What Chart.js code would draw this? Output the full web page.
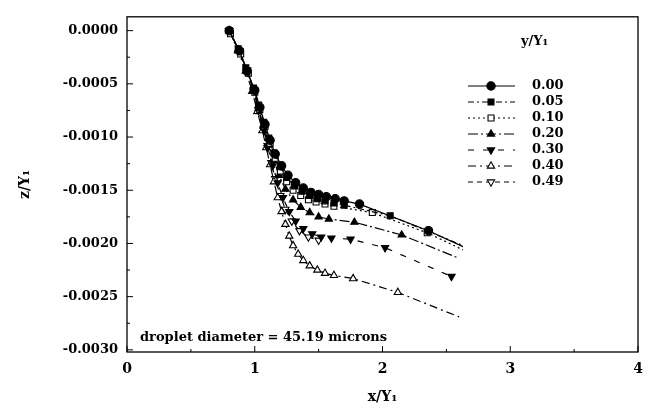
<!DOCTYPE html>
<html>
<head>
<meta charset="utf-8">
<script src="https://cdn.jsdelivr.net/npm/chart.js@4.4.0/dist/chart.umd.min.js"></script>
<style>
html, body { margin: 0; padding: 0; background: #fff; }
</style>
</head>
<body>
<canvas id="chart-droplet" width="659" height="412"></canvas>
<script>
// y/Y1 stations shown in the legend
var ratios = ['0.00', '0.05', '0.10', '0.20', '0.30', '0.40', '0.49'];

// axis ticks
var xTicks = [0, 1, 2, 3, 4];
var yTicks = [0, -0.0005, -0.0010, -0.0015, -0.0020, -0.0025, -0.0030];

// trajectories, x/Y1 and z/Y1
var x000 = [0.80, 0.88, 0.94, 1.00, 1.04, 1.08, 1.12, 1.16, 1.21, 1.26, 1.32, 1.38, 1.44, 1.50, 1.56, 1.63, 1.70, 1.82, 2.36, 2.63];
var z000 = [0, -0.00019, -0.00038, -0.00056, -0.00072, -0.00088, -0.00103, -0.00116, -0.00127, -0.00136, -0.00143, -0.00148, -0.00152, -0.00154, -0.00156, -0.00158, -0.00160, -0.00163, -0.00188, -0.00203];

var x005 = [0.80, 0.87, 0.93, 0.99, 1.03, 1.07, 1.11, 1.15, 1.20, 1.25, 1.31, 1.37, 1.43, 1.49, 1.55, 1.62, 1.70, 2.06, 2.63];
var z005 = [0, -0.00017, -0.00035, -0.00054, -0.00070, -0.00086, -0.00101, -0.00115, -0.00128, -0.00138, -0.00146, -0.00151, -0.00155, -0.00158, -0.00160, -0.00162, -0.00164, -0.00174, -0.00202];

var x010 = [0.81, 0.89, 0.95, 1.00, 1.04, 1.08, 1.12, 1.16, 1.20, 1.25, 1.30, 1.36, 1.42, 1.48, 1.55, 1.62, 1.92, 2.35, 2.63];
var z010 = [-0.00003, -0.00022, -0.00040, -0.00058, -0.00074, -0.00090, -0.00106, -0.00120, -0.00132, -0.00142, -0.00150, -0.00155, -0.00159, -0.00161, -0.00163, -0.00165, -0.00171, -0.00190, -0.00206];

var x020 = [0.80, 0.87, 0.94, 0.99, 1.03, 1.07, 1.11, 1.15, 1.19, 1.24, 1.30, 1.36, 1.43, 1.50, 1.58, 1.78, 2.15, 2.60];
var z020 = [0, -0.00018, -0.00037, -0.00056, -0.00073, -0.00090, -0.00107, -0.00122, -0.00136, -0.00149, -0.00159, -0.00166, -0.00171, -0.00175, -0.00177, -0.00180, -0.00192, -0.00214];

var x030 = [0.80, 0.88, 0.94, 0.99, 1.03, 1.07, 1.10, 1.14, 1.18, 1.22, 1.27, 1.32, 1.38, 1.45, 1.52, 1.60, 1.75, 2.02, 2.54];
var z030 = [0, -0.00019, -0.00038, -0.00057, -0.00075, -0.00093, -0.00110, -0.00127, -0.00143, -0.00157, -0.00170, -0.00179, -0.00186, -0.00191, -0.00194, -0.00195, -0.00196, -0.00204, -0.00231];

var x040 = [0.80, 0.87, 0.93, 0.98, 1.02, 1.06, 1.09, 1.12, 1.15, 1.18, 1.21, 1.24, 1.27, 1.30, 1.34, 1.38, 1.43, 1.49, 1.55, 1.62, 1.77, 2.12, 2.60];
var z040 = [0, -0.00019, -0.00038, -0.00057, -0.00076, -0.00094, -0.00110, -0.00126, -0.00142, -0.00157, -0.00170, -0.00182, -0.00193, -0.00202, -0.00210, -0.00216, -0.00221, -0.00225, -0.00228, -0.00230, -0.00233, -0.00246, -0.00269];

var x049 = [0.80, 0.88, 0.94, 0.99, 1.03, 1.07, 1.10, 1.13, 1.16, 1.20, 1.24, 1.29, 1.35, 1.42, 1.50];
var z049 = [0, -0.00019, -0.00037, -0.00056, -0.00074, -0.00092, -0.00108, -0.00124, -0.00139, -0.00155, -0.00168, -0.00179, -0.00188, -0.00194, -0.00197];

var serif = '"DejaVu Serif", "Liberation Serif", serif';

function toPoints(xs, zs) {
    return xs.map(function (x, i) { return { x: x, y: zs[i] }; });
}

// last point of some curves is only the end of the fitted line, no symbol
function radii(xs, lineOnlyEnd) {
    return xs.map(function (x, i) { return (lineOnlyEnd && i === xs.length - 1) ? 0 : 4.2; });
}

function series(label, xs, zs, style, open, rotation, dash, lineOnlyEnd) {
    return {
        label: label,
        data: toPoints(xs, zs),
        showLine: true,
        borderColor: '#000',
        borderWidth: 1.2,
        borderDash: dash,
        pointStyle: style,
        pointRotation: rotation,
        pointRadius: radii(xs, lineOnlyEnd),
        pointBackgroundColor: open ? '#fff' : '#000',
        pointBorderColor: '#000',
        pointBorderWidth: 1.1,
        tension: 0
    };
}

var framePlugin = {
    id: 'frame',
    afterDraw: function (chart) {
        var ctx = chart.ctx;
        var a = chart.chartArea;
        var xs = chart.scales.x, ys = chart.scales.y;
        ctx.save();
        ctx.strokeStyle = '#000';
        ctx.lineWidth = 1.3;
        ctx.strokeRect(a.left, a.top, a.right - a.left, a.bottom - a.top);

        // inward ticks
        ctx.lineWidth = 1;
        ctx.beginPath();
        xTicks.forEach(function (v, i) {
            var px = xs.getPixelForValue(v);
            ctx.moveTo(px, a.bottom); ctx.lineTo(px, a.bottom - 6);
            if (i < xTicks.length - 1) {
                var mx = xs.getPixelForValue((v + xTicks[i + 1]) / 2);
                ctx.moveTo(mx, a.bottom); ctx.lineTo(mx, a.bottom - 3);
            }
        });
        yTicks.forEach(function (v, i) {
            var py = ys.getPixelForValue(v);
            ctx.moveTo(a.left, py); ctx.lineTo(a.left + 6, py);
            if (i < yTicks.length - 1) {
                var my = ys.getPixelForValue((v + yTicks[i + 1]) / 2);
                ctx.moveTo(a.left, my); ctx.lineTo(a.left + 3, my);
            }
        });
        ctx.stroke();

        // note inside the plot
        ctx.fillStyle = '#000';
        ctx.font = 'bold 13px ' + serif;
        ctx.textBaseline = 'middle';
        ctx.textAlign = 'left';
        ctx.fillText('droplet diameter = 45.19 microns', 140, 338);

        // legend
        ctx.fillText('y/Y\u2081', 521, 42);
        chart.data.datasets.forEach(function (ds, i) {
            var y = 86 + i * 16;
            ctx.strokeStyle = '#000';
            ctx.lineWidth = ds.borderWidth;
            ctx.setLineDash(ds.borderDash);
            ctx.beginPath();
            ctx.moveTo(468, y); ctx.lineTo(515, y);
            ctx.stroke();
            ctx.setLineDash([]);
            ctx.fillStyle = ds.pointBackgroundColor;
            ctx.lineWidth = ds.pointBorderWidth;
            Chart.helpers.drawPoint(ctx, {
                pointStyle: ds.pointStyle,
                rotation: ds.pointRotation,
                radius: 4.2,
                borderWidth: ds.pointBorderWidth
            }, 491, y);
            ctx.fillStyle = '#000';
            ctx.fillText(ds.label, 532, y);
        });
        ctx.restore();
    }
};

function chart() {
    var ctx = document.getElementById('chart-droplet');
    if (ctx) {
        new Chart(ctx, {
            type: 'scatter',
            data: {
                datasets: [
                    series(ratios[0], x000, z000, 'circle', false, 0, [], true),
                    series(ratios[1], x005, z005, 'rect', false, 0, [6, 3, 2, 3], true),
                    series(ratios[2], x010, z010, 'rect', true, 0, [2, 3], true),
                    series(ratios[3], x020, z020, 'triangle', false, 0, [10, 3, 2, 3], true),
                    series(ratios[4], x030, z030, 'triangle', false, 180, [6, 9], false),
                    series(ratios[5], x040, z040, 'triangle', true, 0, [8, 4, 2, 4], true),
                    series(ratios[6], x049, z049, 'triangle', true, 180, [5, 4], false)
                ]
            },
            options: {
                responsive: false,
                animation: false,
                devicePixelRatio: 1,
                events: [],
                layout: { padding: { top: 7, right: 21, left: 0, bottom: 0 } },
                plugins: { legend: { display: false }, tooltip: { enabled: false } },
                scales: {
                    x: {
                        type: 'linear',
                        min: 0,
                        max: 4,
                        afterBuildTicks: function (scale) {
                            scale.ticks = xTicks.map(function (v) { return { value: v }; });
                        },
                        afterFit: function (scale) { scale.height = 60; },
                        grid: { display: false, drawTicks: false },
                        border: { display: false },
                        ticks: {
                            color: '#000',
                            padding: 9,
                            maxRotation: 0,
                            font: { family: serif, size: 14, weight: 'bold' },
                            callback: function (v) { return String(v); }
                        },
                        title: {
                            display: true,
                            text: 'x/Y\u2081',
                            color: '#000',
                            padding: { top: 0, bottom: 6 },
                            font: { family: serif, size: 14, weight: 'bold' }
                        }
                    },
                    y: {
                        type: 'linear',
                        min: -0.00302,
                        max: 0.00013,
                        afterBuildTicks: function (scale) {
                            scale.ticks = yTicks.map(function (v) { return { value: v }; });
                        },
                        afterFit: function (scale) { scale.width = 127; },
                        grid: { display: false, drawTicks: false },
                        border: { display: false },
                        ticks: {
                            color: '#000',
                            padding: 9,
                            font: { family: serif, size: 13, weight: 'bold' },
                            callback: function (v) { return Number(v).toFixed(4); }
                        },
                        title: {
                            display: true,
                            text: 'z/Y\u2081',
                            color: '#000',
                            padding: { top: 17, bottom: 0 },
                            font: { family: serif, size: 14, weight: 'bold' }
                        }
                    }
                }
            },
            plugins: [framePlugin]
        });
    }
}

chart();
</script>
</body>
</html>
